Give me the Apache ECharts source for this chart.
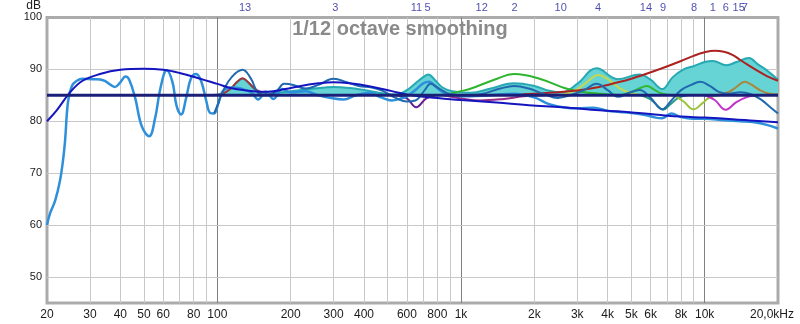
<!DOCTYPE html>
<html>
<head>
<meta charset="utf-8">
<script src="https://cdn.jsdelivr.net/npm/echarts@6/dist/echarts.min.js"></script>
<style>
html,body{margin:0;padding:0;background:#fff}
#chart{width:800px;height:324px}
</style>
</head>
<body>
<div id="chart"></div>
<script>
// Frequency axis ticks and their printed labels
const freqTicks = [20,30,40,50,60,80,100,200,300,400,600,800,1000,2000,3000,4000,5000,6000,8000,10000,20000];
const freqTickLabels = ['20','30','40','50','60','80','100','200','300','400','600','800','1k','2k','3k','4k','5k','6k','8k','10k','20,0kHz'];
const dbTicks = [50,60,70,80,90,100];
const minorGridFreqs = [30,40,50,60,70,80,90,200,300,400,500,600,700,800,900,2000,3000,4000,5000,6000,7000,8000,9000];
const decadeGridFreqs = [100,1000,10000];
const dbGrid = [50,60,70,80,90];

// EQ filter numbers and centre frequencies (Hz)
const filterIds   = ['13','3','11','5','12','2','10','4','14','9','8','1','6','15','7'];
const filterFreqs = [130,305,657,730,1216,1660,2565,3650,5740,6750,9040,10800,12200,13800,14600];

// Measured response (dB SPL)
const measured = [[20,60],[20.6,62.3],[21.6,64.7],[22.6,68.5],[23.2,72],[23.7,76],[24.4,83.8],[25.3,86.8],[26.5,87.8],[28,88.2],[31,88.1],[34,87.9],[36.5,87.0],[38,86.6],[40,87.5],[42,88.6],[43.5,88],[46,84.5],[49,79],[52.5,77.1],[55.5,80.5],[58.5,86.5],[62,89.8],[65.5,87.5],[68,83],[71,81.3],[74.5,84.5],[78,88.3],[82,89.1],[86,87.6],[90,84],[93.5,81.6],[97,81.5],[101,83.5],[105,85.7],[115,86.5],[125,86.3],[138,85.5],[147,84.2],[158,85.7],[170,84.3],[185,86.2],[200,85.6],[230,85.8],[260,85.0],[290,84.5],[330,84.2],[370,85.0],[420,85.5],[470,84.6],[520,84.0],[560,84.3],[600,84.8],[650,86.0],[700,87.3],[740,87.6],[790,86.6],[850,85.5],[950,85.0],[1000,84.8],[1300,85.0],[1650,85.3],[2000,84.6],[2300,83.3],[2700,82.6],[3000,82.5],[3500,82.6],[4000,82.0],[4500,81.8],[5000,81.6],[5700,81.2],[6300,80.7],[6700,80.6],[7300,81.5],[8000,80.8],[9000,80.5],[10000,80.5],[12000,80.2],[14000,80.0],[16000,79.8],[18000,79.3],[20000,78.6]];

// Predicted response with EQ applied
const predicted = [[97,81.5],[101,83.5],[106,86],[115,88.6],[127,89.9],[137,88.3],[147,85.5],[160,85.0],[175,85.8],[188,87.2],[205,87.0],[230,86.3],[260,87.0],[300,88.2],[340,87.5],[380,86.8],[430,86.5],[480,85.8],[540,84.5],[600,83.8],[650,84.0],[710,86.0],[750,87.2],[820,86.2],[900,85.2],[1000,85.0],[1200,85.2],[1450,86.3],[1650,86.8],[1900,86.3],[2200,85.2],[2500,84.5],[2800,85.0],[3200,86.0],[3600,87.2],[4000,86.0],[4400,84.7],[4900,85.5],[5400,86.0],[6000,84.5],[6700,82.3],[7300,84.0],[8000,86.0],[8800,87.0],[9600,87.6],[10500,86.8],[11500,85.6],[12500,85.3],[14000,85.6],[15500,85.2],[17000,84.2],[18500,82.8],[20000,81.5]];

// Target (house) curve
const target = [[20,80],[22,82.2],[25,85.7],[28,87.8],[33,89.1],[40,89.9],[50,90.1],[60,89.9],[70,89.3],[85,88.2],[100,87.2],[116,86.3],[140,85.8],[161,85.7],[190,86.2],[220,86.8],[260,87.3],[300,87.5],[350,87.3],[425,86.7],[520,85.8],[625,85.0],[800,84.5],[1000,84.1],[1400,83.6],[1900,83.1],[2600,82.7],[3700,82.1],[5000,81.7],[6600,81.2],[8000,80.9],[10000,80.7],[13000,80.4],[16000,80.1],[20000,79.8]];

// Reference level line
const refLevel = [[20,85],[20000,85]];

// Combined filter response, drawn around the reference level
const filtersTotal = [[90,85],[100,85.1],[105,85.3],[113,86.2],[120,87.4],[127,88.2],[134,87.4],[145,85.9],[160,85.3],[200,85.8],[250,86.3],[300,86.6],[350,86.4],[400,86.0],[460,85.5],[520,85.2],[560,85.3],[600,86.0],[650,87.3],[700,88.5],[735,89.0],[780,88.0],[840,86.5],[920,85.8],[1100,85.5],[1300,86.2],[1650,87.3],[2000,86.8],[2300,85.9],[2600,85.6],[3000,87.2],[3600,90.2],[4400,88.1],[5400,89.0],[6000,88.0],[6700,86.2],[7400,88.5],[8200,90.0],[9000,90.6],[10000,91.4],[10800,91.6],[12300,90.8],[13500,91.4],[15200,92.2],[16500,91.0],[18000,89.8],[20000,88.0]];

// Individual filter responses
const f13 = [[95,85],[105,85.3],[113,86.2],[120,87.5],[127,88.3],[134,87.5],[145,86],[160,85.3],[180,85]];
const f1  = [[1500,85.1],[2000,85.3],[2500,85.6],[3000,85.9],[3600,86.5],[4000,87.0],[4500,87.6],[5000,88.2],[5500,88.8],[6600,90.1],[8000,91.6],[9000,92.6],[10000,93.3],[11000,93.6],[12000,93.4],[13000,92.8],[14000,91.8],[15000,90.9],[16500,89.7],[18000,88.7],[20000,87.8]];
const f2  = [[800,85],[900,85.3],[1000,85.8],[1100,86.3],[1370,88.0],[1660,89.1],[2100,88.2],[2700,86.3],[3100,85.7],[3700,85.3],[4500,85.05]];
const f4  = [[2500,85],[2900,85.8],[3300,87.6],[3650,88.9],[4000,88.1],[4500,86.3],[5000,85.4],[5600,85]];
const f14 = [[4500,85],[5000,85.6],[5500,86.5],[5800,86.8],[6200,86.1],[6700,85.3],[7500,85]];
const f9  = [[5500,85],[6000,84.2],[6400,83],[6750,82.2],[7200,83.2],[7800,84.5],[8500,85]];
const f8  = [[7500,85],[8200,83.8],[9000,82.3],[9800,83.5],[10500,84.6],[11500,85]];
const f6  = [[10000,85],[11000,84.1],[12200,82.2],[13500,83.7],[15000,84.7],[16500,85]];
const f7  = [[11000,85],[12500,85.6],[13500,86.6],[14600,87.6],[15500,87.1],[17000,85.9],[18500,85.3],[20000,85.2]];
const f11 = [[540,85],[600,84.4],[655,82.7],[720,84.4],[790,85]];
const f12 = [[850,85],[1000,84.4],[1200,84.0],[1500,84.3],[1800,84.8],[2200,85]];

const FONT = '"Liberation Sans", Arial, sans-serif';

function tickLabel(v) {
  let best = 0, bestD = Infinity;
  freqTicks.forEach((t, i) => {
    const d = Math.abs(Math.log(v / t));
    if (d < bestD) { bestD = d; best = i; }
  });
  const s = freqTickLabels[best];
  return best === freqTicks.length - 1 ? '{last|' + s + '}' : s;
}

function curve(name, data, color, width, z, extra) {
  return Object.assign({
    name, type: 'line', data, smooth: 0.4, symbol: 'none', z,
    lineStyle: { color, width }, silent: true, animation: false
  }, extra || {});
}

const gridLines = [];
minorGridFreqs.forEach(f => gridLines.push({ xAxis: f, lineStyle: { color: '#c8c8c8', width: 1, type: 'solid' } }));
decadeGridFreqs.forEach(f => gridLines.push({ xAxis: f, lineStyle: { color: '#808080', width: 1, type: 'solid' } }));
dbGrid.forEach(d => gridLines.push({ yAxis: d, lineStyle: { color: '#c8c8c8', width: 1, type: 'solid' } }));

const chart = echarts.init(document.getElementById('chart'), null, { renderer: 'canvas' });
chart.setOption({
  animation: false,
  backgroundColor: '#ffffff',
  textStyle: { fontFamily: FONT },
  title: {
    text: '1/12 octave smoothing', left: 'center', top: 14,
    textStyle: { fontFamily: FONT, fontSize: 20, fontWeight: 'bold', color: '#8a8a8a' }
  },
  grid: { left: 47, right: 22, top: 15, bottom: 21, show: true, borderColor: '#ababab', borderWidth: 3, backgroundColor: 'transparent' },
  xAxis: {
    type: 'log', logBase: 10, min: 20, max: 20000,
    axisLine: { show: false }, axisTick: { show: false }, splitLine: { show: false },
    axisLabel: {
      customValues: freqTicks, margin: 6, fontSize: 12, color: '#1a1a1a', fontFamily: FONT,
      formatter: tickLabel, rich: { last: { fontSize: 12, fontFamily: FONT, color: '#1a1a1a', padding: [0, 12, 0, 0] } }
    }
  },
  yAxis: {
    type: 'value', min: 45, max: 100,
    name: 'dB', nameLocation: 'end', nameGap: 4,
    nameTextStyle: { fontSize: 12, color: '#1a1a1a', align: 'right', padding: [0, 6, 0, 0], fontFamily: FONT },
    axisLine: { show: false }, axisTick: { show: false }, splitLine: { show: false },
    axisLabel: { customValues: dbTicks, margin: 5, fontSize: 11, color: '#1a1a1a', fontFamily: FONT }
  },
  series: [
    {
      name: 'grid', type: 'line', data: [[20, 45]], symbol: 'none', z: 1,
      lineStyle: { opacity: 0 }, silent: true,
      markLine: { z: 1, silent: true, symbol: ['none', 'none'], label: { show: false }, data: gridLines, animation: false }
    },
    curve('Filters', filtersTotal, '#27a9b3', 2, 3, { areaStyle: { color: '#66d3d5', opacity: 1, origin: 85 } }),
    curve('F13', f13, '#a3363a', 2, 4),
    curve('F2', f2, '#2eb52e', 2, 4),
    curve('F4', f4, '#c6d84c', 2, 4),
    curve('F14', f14, '#33b833', 2, 4),
    curve('F9', f9, '#2a9a86', 2, 4),
    curve('F8', f8, '#9cc23a', 2, 4),
    curve('F6', f6, '#c233c8', 2, 4),
    curve('F7', f7, '#a8883c', 2, 4),
    curve('F11', f11, '#6a1a8e', 2, 4),
    curve('F12', f12, '#9a2a86', 2, 4),
    curve('F1', f1, '#ac2222', 2, 4),
    curve('Measured', measured, '#2e8fdb', 2.5, 5),
    curve('Predicted', predicted, '#2069ae', 2, 6),
    curve('Target', target, '#1515c0', 2, 7),
    curve('Level', refLevel, '#1a1f78', 3, 8, { smooth: false }),
    {
      name: 'Filter numbers', type: 'scatter', clip: false, z: 9, silent: true,
      symbolSize: 0,
      data: filterFreqs.map(f => [f, 101.75]),
      label: {
        show: true, position: 'inside', fontSize: 11, color: '#1e1e9a', fontFamily: FONT,
        formatter: p => filterIds[p.dataIndex]
      }
    }
  ]
});
</script>
</body>
</html>
